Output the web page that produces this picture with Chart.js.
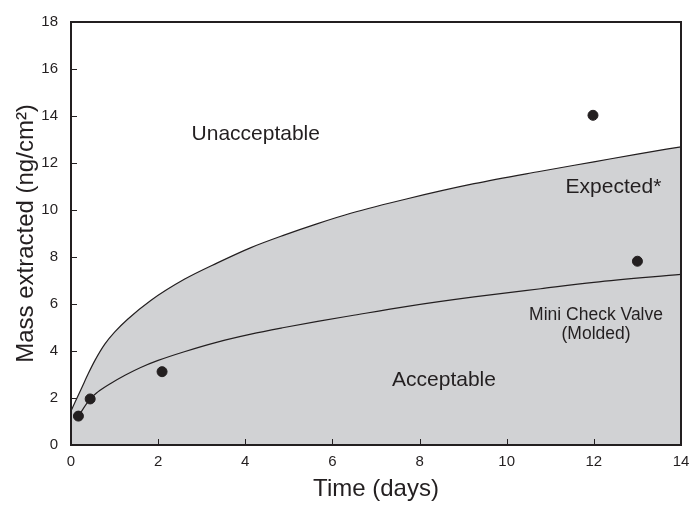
<!DOCTYPE html>
<html>
<head>
<meta charset="utf-8">
<script src="https://cdn.jsdelivr.net/npm/chart.js@4/dist/chart.umd.min.js"></script>
<style>
  html, body { margin: 0; padding: 0; background: #fff; }
  #wrap { width: 689px; height: 505px; }
</style>
</head>
<body>
<div id="wrap"><canvas id="massChart"></canvas></div>
<script>
// upper edge of the shaded "expected" band
var upperX = [0, 0.1, 0.25, 0.4, 0.55, 0.78, 1.0, 1.3, 1.83, 2.6, 3.36, 4.13, 4.89, 5.66, 6.42, 7.72, 9.25, 10.78, 12, 13, 14];
var upperY = [1.45, 1.85, 2.45, 3.05, 3.6, 4.3, 4.8, 5.35, 6.15, 7.05, 7.75, 8.4, 8.93, 9.42, 9.86, 10.48, 11.12, 11.65, 12.05, 12.38, 12.69];

// mini check valve (molded) fit
var lowerX = [0.17, 0.44, 0.61, 0.92, 1.25, 1.6, 2.0, 2.6, 3.36, 4.13, 4.89, 5.66, 6.42, 7.72, 9.25, 10.78, 12, 14];
var lowerY = [1.23, 1.96, 2.25, 2.63, 2.98, 3.3, 3.6, 3.97, 4.38, 4.72, 5.0, 5.26, 5.5, 5.9, 6.3, 6.65, 6.92, 7.26];

// measured points
var pointX = [0.17, 0.44, 2.09, 11.98, 13.0];
var pointY = [1.23, 1.96, 3.12, 14.03, 7.82];

var xTicks = [0, 2, 4, 6, 8, 10, 12, 14];
var yTicks = [0, 2, 4, 6, 8, 10, 12, 14, 16, 18];

var notes = [
    { text: 'Unacceptable', x: 4.24, y: 13.24, size: 21 },
    { text: 'Expected*', x: 12.45, y: 10.97, size: 21 },
    { text: 'Mini Check Valve', x: 12.05, y: 5.53, size: 17.5 },
    { text: '(Molded)', x: 12.05, y: 4.7, size: 17.5 },
    { text: 'Acceptable', x: 8.56, y: 2.77, size: 21 }
];

var ink = '#231f20';
var font = "'Liberation Sans', Arial, sans-serif";

function pairs(xs, ys) {
    return xs.map(function (v, i) { return { x: v, y: ys[i] }; });
}

// frame, inward ticks and region labels
var decor = {
    id: 'decor',
    afterDatasetsDraw: function (chart) {
        var ctx = chart.ctx, a = chart.chartArea;
        var sx = chart.scales.x, sy = chart.scales.y;
        ctx.save();
        ctx.strokeStyle = ink;
        ctx.lineWidth = 1;
        xTicks.forEach(function (t) {
            var px = Math.round(sx.getPixelForValue(t)) + 0.5;
            ctx.beginPath(); ctx.moveTo(px, a.bottom); ctx.lineTo(px, a.bottom - 6); ctx.stroke();
        });
        yTicks.forEach(function (t) {
            var py = Math.round(sy.getPixelForValue(t)) + 0.5;
            ctx.beginPath(); ctx.moveTo(a.left, py); ctx.lineTo(a.left + 6, py); ctx.stroke();
        });
        ctx.lineWidth = 2;
        ctx.strokeRect(a.left, a.top, a.right - a.left, a.bottom - a.top);

        ctx.fillStyle = ink;
        ctx.textAlign = 'center';
        ctx.textBaseline = 'middle';
        notes.forEach(function (n) {
            ctx.font = n.size + 'px ' + font;
            ctx.fillText(n.text, sx.getPixelForValue(n.x), sy.getPixelForValue(n.y));
        });
        ctx.restore();
    }
};

var massConfig = {
    type: 'scatter',
    data: {
        datasets: [{
            label: 'Expected',
            type: 'line',
            data: pairs(upperX, upperY),
            borderColor: ink,
            borderWidth: 1.2,
            backgroundColor: '#d1d2d4',
            fill: 'origin',
            pointRadius: 0,
            cubicInterpolationMode: 'monotone',
            order: 3
        }, {
            label: 'Mini Check Valve (Molded)',
            type: 'line',
            data: pairs(lowerX, lowerY),
            borderColor: ink,
            borderWidth: 1.2,
            fill: false,
            pointRadius: 0,
            cubicInterpolationMode: 'monotone',
            order: 2
        }, {
            label: 'Measured',
            data: pairs(pointX, pointY),
            backgroundColor: ink,
            borderColor: ink,
            pointRadius: 5,
            order: 1
        }]
    },
    options: {
        responsive: true,
        maintainAspectRatio: false,
        animation: false,
        layout: { padding: { top: 15, right: 0, left: 0, bottom: 0 } },
        scales: {
            x: {
                type: 'linear',
                min: 0,
                max: 14,
                afterBuildTicks: function (s) { s.ticks = xTicks.map(function (v) { return { value: v }; }); },
                afterFit: function (s) { s.height = 60; s.paddingRight = 8; s.paddingLeft = 0; },
                grid: { display: false, drawTicks: false },
                border: { display: false },
                ticks: { color: ink, padding: 8, font: { family: font, size: 15 } },
                title: {
                    display: true,
                    text: 'Time (days)',
                    color: ink,
                    padding: { top: 0, bottom: 1 },
                    font: { family: font, size: 24 }
                }
            },
            y: {
                min: 0,
                max: 18,
                afterBuildTicks: function (s) { s.ticks = yTicks.map(function (v) { return { value: v }; }); },
                afterFit: function (s) { s.width = 71; },
                grid: { display: false, drawTicks: false },
                border: { display: false },
                ticks: { color: ink, padding: 13, font: { family: font, size: 15 } },
                title: {
                    display: true,
                    text: 'Mass extracted (ng/cm²)',
                    color: ink,
                    padding: { top: 12, bottom: 0 },
                    font: { family: font, size: 24 }
                }
            }
        },
        plugins: {
            legend: { display: false },
            tooltip: { enabled: false }
        }
    },
    plugins: [decor]
};

var ctx = document.getElementById('massChart').getContext('2d');
var massChart = new Chart(ctx, massConfig);
</script>
</body>
</html>
